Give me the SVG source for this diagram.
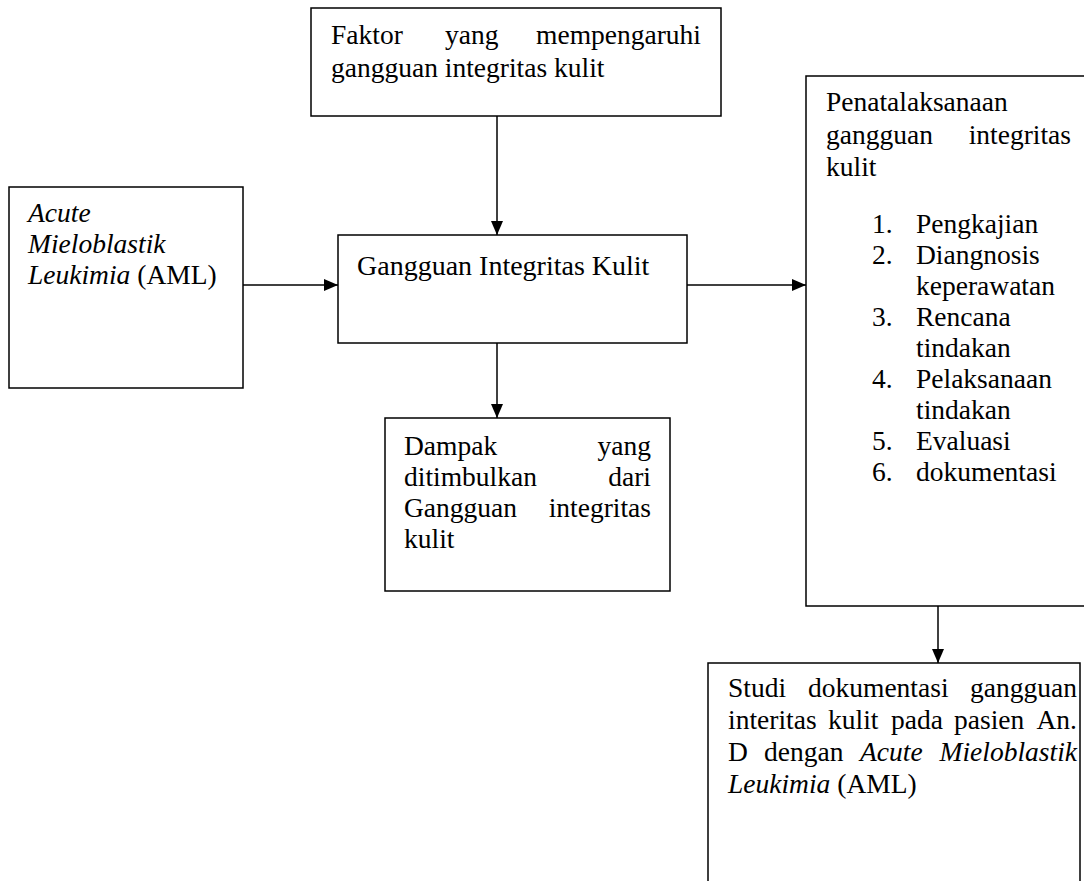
<svg xmlns="http://www.w3.org/2000/svg" width="1084" height="881" viewBox="0 0 1084 881">
<style>
.box{fill:#fff;stroke:#000;stroke-width:1.5}
text{font-family:"Liberation Serif","Times New Roman",serif;font-size:27.5px;fill:#000}
.i{font-style:italic}
.e{text-anchor:end}
.con{stroke:#000;stroke-width:1.5;fill:none;marker-end:url(#ah)}
</style>
<defs>
<marker id="ah" markerUnits="userSpaceOnUse" markerWidth="14" markerHeight="12" viewBox="0 0 14 12" refX="14" refY="6" orient="auto">
<path d="M0,0 L14,6 L0,12 Z" fill="#000"/>
</marker>
</defs>
<g id="connectors">
<line class="con" x1="497" y1="116" x2="497" y2="235"/>
<line class="con" x1="243" y1="285" x2="338" y2="285"/>
<line class="con" x1="687" y1="285" x2="806" y2="285"/>
<line class="con" x1="497" y1="343" x2="497" y2="418"/>
<line class="con" x1="938" y1="606" x2="938" y2="663"/>
</g>
<g id="faktor">
<rect class="box" x="311" y="8" width="410" height="108"/>
<text x="331" y="44">Faktor</text>
<text x="445" y="44">yang</text>
<text class="e" x="701" y="44">mempengaruhi</text>
<text x="331" y="77">gangguan integritas kulit</text>
</g>
<g id="aml">
<rect class="box" x="9" y="187" width="234" height="201"/>
<text class="i" x="28" y="222">Acute</text>
<text class="i" x="28" y="253">Mieloblastik</text>
<text x="28" y="284"><tspan class="i">Leukimia</tspan> (AML)</text>
</g>
<g id="gangguan">
<rect class="box" x="338" y="235" width="349" height="108"/>
<text x="357" y="275" style="font-size:28px">Gangguan Integritas Kulit</text>
</g>
<g id="dampak">
<rect class="box" x="385" y="418" width="285" height="173"/>
<text x="404" y="455">Dampak</text>
<text class="e" x="651" y="455">yang</text>
<text x="404" y="486">ditimbulkan</text>
<text class="e" x="651" y="486">dari</text>
<text x="404" y="517">Gangguan</text>
<text class="e" x="651" y="517">integritas</text>
<text x="404" y="548">kulit</text>
</g>
<g id="penatalaksanaan">
<rect class="box" x="806" y="76" width="300" height="530"/>
<text x="826" y="111">Penatalaksanaan</text>
<text x="826" y="144">gangguan</text>
<text class="e" x="1071" y="144">integritas</text>
<text x="826" y="176">kulit</text>
<text x="872" y="233">1.</text><text x="916" y="233">Pengkajian</text>
<text x="872" y="264">2.</text><text x="916" y="264">Diangnosis</text>
<text x="916" y="295">keperawatan</text>
<text x="872" y="326">3.</text><text x="916" y="326">Rencana</text>
<text x="916" y="357">tindakan</text>
<text x="872" y="388">4.</text><text x="916" y="388">Pelaksanaan</text>
<text x="916" y="419">tindakan</text>
<text x="872" y="450">5.</text><text x="916" y="450">Evaluasi</text>
<text x="872" y="481">6.</text><text x="916" y="481">dokumentasi</text>
</g>
<g id="studi">
<rect class="box" x="708" y="663" width="372" height="300"/>
<text x="728" y="697">Studi</text>
<text x="808" y="697">dokumentasi</text>
<text class="e" x="1077" y="697">gangguan</text>
<text x="728" y="729">interitas</text>
<text x="828" y="729">kulit</text>
<text x="891" y="729">pada</text>
<text x="954" y="729">pasien</text>
<text class="e" x="1077" y="729">An.</text>
<text x="728" y="761">D</text>
<text x="764" y="761">dengan</text>
<text class="i" x="860" y="761">Acute</text>
<text class="i e" x="1077" y="761">Mieloblastik</text>
<text x="728" y="793"><tspan class="i">Leukimia</tspan> (AML)</text>
</g>
</svg>
